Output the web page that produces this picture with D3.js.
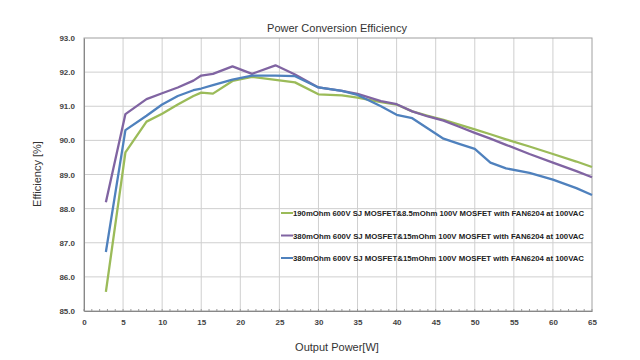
<!DOCTYPE html>
<html><head><meta charset="utf-8">
<script src="https://cdn.jsdelivr.net/npm/d3@7"></script>
<style>body{margin:0;background:#fff;}svg{display:block;font-family:Arial,"Liberation Sans",sans-serif;}</style>
</head><body>
<svg id="chart" width="640" height="360"></svg>
<script>
const power = [2.8, 5.3, 8, 10, 12, 14, 15, 16.5, 19, 21.5, 24.5, 27, 30, 33, 35, 38, 40, 42, 44, 46, 48, 50, 52, 54, 57, 60, 63, 65];
const green190 = [85.56, 89.65, 90.55, 90.78, 91.05, 91.3, 91.4, 91.37, 91.74, 91.86, 91.77, 91.7, 91.35, 91.32, 91.25, 91.12, 91.05, 90.85, 90.72, 90.6, 90.46, 90.32, 90.18, 90.03, 89.82, 89.6, 89.38, 89.22];
const purple380 = [88.19, 90.77, 91.21, 91.38, 91.55, 91.75, 91.9, 91.95, 92.17, 91.95, 92.2, 91.93, 91.55, 91.45, 91.36, 91.15, 91.06, 90.85, 90.7, 90.58, 90.4, 90.22, 90.05, 89.87, 89.6, 89.35, 89.1, 88.92];
const blue380 = [86.73, 90.3, 90.72, 91.05, 91.3, 91.47, 91.52, 91.62, 91.78, 91.9, 91.9, 91.88, 91.55, 91.45, 91.33, 91.0, 90.75, 90.65, 90.35, 90.05, 89.9, 89.75, 89.35, 89.18, 89.05, 88.85, 88.6, 88.4];
const seriesNames = [
  "190mOhm 600V  SJ MOSFET&8.5mOhm 100V MOSFET with FAN6204 at 100VAC",
  "380mOhm 600V  SJ MOSFET&15mOhm 100V MOSFET with FAN6204 at 100VAC",
  "380mOhm 600V  SJ MOSFET&15mOhm 100V MOSFET with FAN6204 at 100VAC"
];
const seriesColors = ["#9bbb59", "#8064a2", "#4f81bd"];
const xTicks = [0, 5, 10, 15, 20, 25, 30, 35, 40, 45, 50, 55, 60, 65];
const yTicks = [85, 86, 87, 88, 89, 90, 91, 92, 93];

const series = [green190, purple380, blue380].map((v, i) => ({
  name: seriesNames[i], color: seriesColors[i],
  values: v.map((e, j) => ({x: power[j], y: e}))
}));

const svg = d3.select("#chart");
const m = {left: 84, right: 592, top: 38, bottom: 311};
const x = d3.scaleLinear().domain([0, 65]).range([m.left, m.right]);
const y = d3.scaleLinear().domain([85, 93]).range([m.bottom, m.top]);

// gridlines
svg.append("g").selectAll("line.v").data(xTicks.slice(1, -1)).join("line")
  .attr("x1", d => x(d)).attr("x2", d => x(d)).attr("y1", m.top).attr("y2", m.bottom)
  .attr("stroke", "#cfcfcf").attr("stroke-width", 1);
svg.append("g").selectAll("line.h").data(yTicks.slice(1, -1)).join("line")
  .attr("x1", m.left).attr("x2", m.right).attr("y1", d => y(d)).attr("y2", d => y(d))
  .attr("stroke", "#cfcfcf").attr("stroke-width", 1);

// plot border
svg.append("rect").attr("x", m.left).attr("y", m.top)
  .attr("width", m.right - m.left).attr("height", m.bottom - m.top)
  .attr("fill", "none").attr("stroke", "#a0a0a0").attr("stroke-width", 1);

// axes
const xAxis = d3.axisBottom(x).tickValues(xTicks).tickSize(0).tickPadding(8).tickFormat(d3.format("d"));
const gx = svg.append("g").attr("transform", `translate(0,${m.bottom})`).call(xAxis);
gx.select(".domain").attr("stroke", "#888");
gx.selectAll("text").attr("font-size", 8).attr("font-weight", "bold").attr("fill", "#444");
// minor ticks along bottom
const minor = d3.range(0, 66, 1);
svg.append("g").selectAll("line").data(minor).join("line")
  .attr("x1", d => x(d)).attr("x2", d => x(d)).attr("y1", m.bottom).attr("y2", m.bottom - 2)
  .attr("stroke", "#999");

const yAxis = d3.axisLeft(y).tickValues(yTicks).tickSize(0).tickPadding(9).tickFormat(d3.format(".1f"));
const gy = svg.append("g").attr("transform", `translate(${m.left},0)`).call(yAxis);
gy.select(".domain").attr("stroke", "#888");
gy.selectAll("text").attr("font-size", 8).attr("font-weight", "bold").attr("fill", "#444");

// lines
const line = d3.line().x(d => x(d.x)).y(d => y(d.y));
svg.append("g").selectAll("path").data(series).join("path")
  .attr("d", d => line(d.values)).attr("fill", "none")
  .attr("stroke", d => d.color).attr("stroke-width", 2.3).attr("stroke-linejoin", "round");

// legend
const lg = svg.append("g").attr("transform", "translate(281,213)");
const items = lg.selectAll("g").data(series).join("g").attr("transform", (d, i) => `translate(0,${i * 22.5})`);
items.append("line").attr("x1", 0).attr("x2", 12).attr("y1", 0).attr("y2", 0)
  .attr("stroke", d => d.color).attr("stroke-width", 2);
items.append("text").attr("x", 12).attr("y", 3)
  .attr("font-size", 8).attr("font-weight", "bold").attr("fill", "#222")
  .attr("textLength", 291).attr("lengthAdjust", "spacingAndGlyphs")
  .text(d => d.name);

// titles
svg.append("text").attr("x", 337).attr("y", 32).attr("text-anchor", "middle")
  .attr("font-size", 11).attr("fill", "#333").text("Power Conversion Efficiency");
svg.append("text").attr("x", 337).attr("y", 351).attr("text-anchor", "middle")
  .attr("font-size", 11).attr("fill", "#333").text("Output Power[W]");
svg.append("text").attr("transform", "translate(41,174) rotate(-90)").attr("text-anchor", "middle")
  .attr("font-size", 11).attr("fill", "#333").text("Efficiency [%]");
</script>
</body></html>
